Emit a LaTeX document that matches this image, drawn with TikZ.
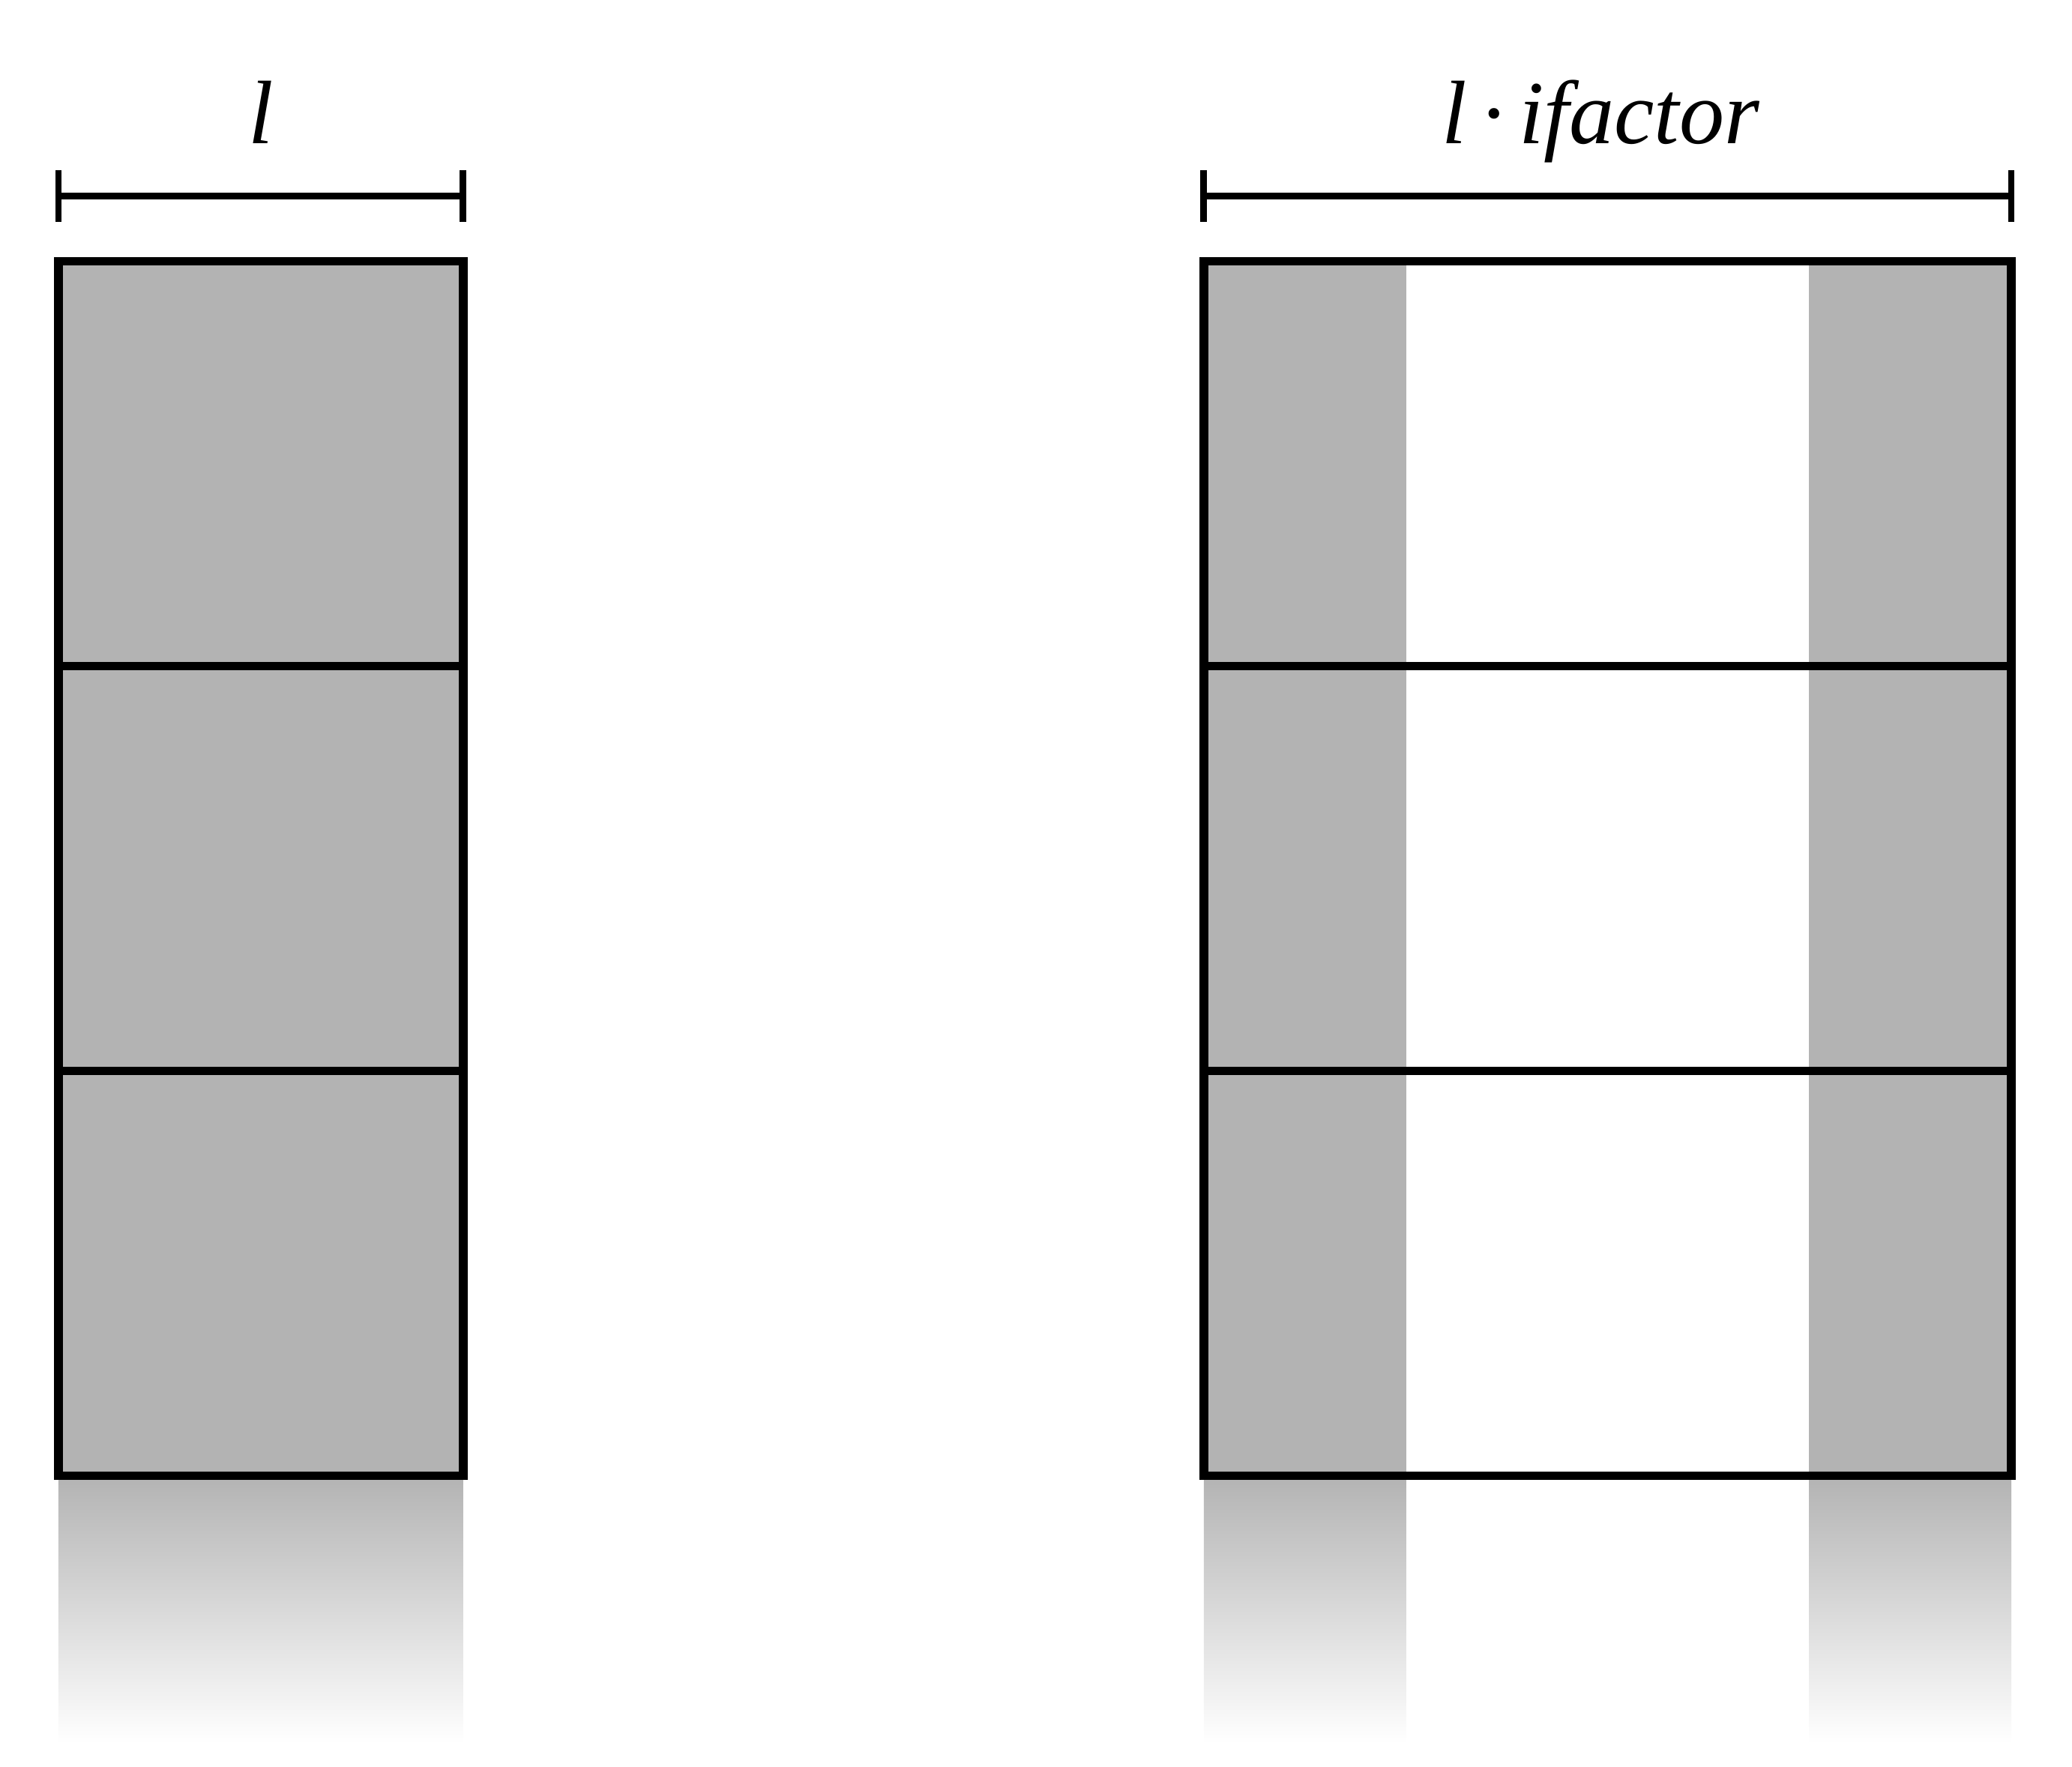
\documentclass[tikz,border=0pt]{standalone}
\usepackage{fontspec}
\setmainfont{Liberation Serif}
\begin{document}
\begin{tikzpicture}[x=3cm,y=3cm,
  boxline/.style={line width=1.8pt},
  dimline/.style={line width=1.4pt},
  greyfill/.style={fill=barg},
  fadeshade/.style={top color=barg,bottom color=white,draw=none},
  lbl/.style={anchor=base,inner sep=0pt,font=\fontsize{19}{22}\selectfont\itshape}]
\definecolor{barg}{RGB}{179,179,179}
\useasboundingbox (-0.1444,-0.719) rectangle (4.975,3.646);
% fades below
\shade[fadeshade] (0,-0.66) rectangle (1,0);
\shade[fadeshade] (2.83,-0.66) rectangle (3.33,0);
\shade[fadeshade] (4.325,-0.66) rectangle (4.825,0);
% left column
\fill[greyfill] (0,0) rectangle (1,3);
\draw[boxline] (0,0) rectangle (1,3);
\draw[boxline] (0,1) -- (1,1);
\draw[boxline] (0,2) -- (1,2);
% right column
\fill[greyfill] (2.83,0) rectangle (3.33,3);
\fill[greyfill] (4.325,0) rectangle (4.825,3);
\draw[boxline] (2.83,0) rectangle (4.825,3);
\draw[boxline] (2.83,1) -- (4.825,1);
\draw[boxline] (2.83,2) -- (4.825,2);
% dimension lines
\coordinate (dl1) at (0,3.161);
\coordinate (dl2) at (1,3.161);
\coordinate (dr1) at (2.83,3.161);
\coordinate (dr2) at (4.825,3.161);
\draw[dimline] (dl1) -- (dl2);
\draw[dimline] (0,3.098) -- (0,3.226);
\draw[dimline] (1,3.098) -- (1,3.226);
\draw[dimline] (dr1) -- (dr2);
\draw[dimline] (2.83,3.098) -- (2.83,3.226);
\draw[dimline] (4.825,3.098) -- (4.825,3.226);
% labels
\node[lbl] (labl) at (0.5,3.292) {l};
\node[lbl] (labr) at (3.81,3.292) {l\,·\,ifactor};
\end{tikzpicture}
\end{document}
